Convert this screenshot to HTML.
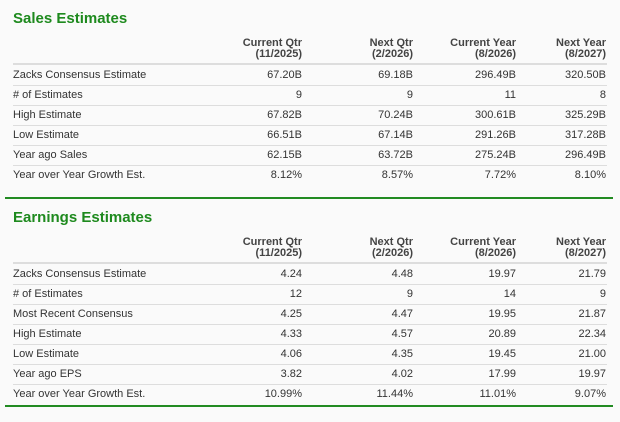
<!DOCTYPE html>
<html><head><meta charset="utf-8"><style>
body{margin:0;width:620px;height:422px;background:#fafafa;font-family:"Liberation Sans",Arial,sans-serif;position:relative;overflow:hidden;color:#333}
.t{position:absolute;left:13px;font-size:15px;font-weight:bold;color:#1e8a1e;margin:0}
.h{position:absolute;font-size:11px;font-weight:bold;color:#444;text-align:right;line-height:10.5px;width:120px}
.r{position:absolute;left:13px;width:594px;height:20px;border-bottom:1px solid #ddd;font-size:11px;line-height:20px}
.r span{position:absolute;text-align:right;width:100px}
.r .l{left:0;text-align:left;width:200px}
.hl{position:absolute;left:13px;width:594px;border-top:2px solid #ddd}
.g{position:absolute;left:5px;width:608px;border-top:2px solid #228b22}
</style></head><body>
<h2 class="t" style="top:10px">Sales Estimates</h2>
<div>
<div class="h" style="left:182px;top:38px">Current Qtr<br>(11/2025)</div>
<div class="h" style="left:293px;top:38px">Next Qtr<br>(2/2026)</div>
<div class="h" style="left:396px;top:38px">Current Year<br>(8/2026)</div>
<div class="h" style="left:486px;top:38px">Next Year<br>(8/2027)</div>
</div>
<div class="hl" style="top:63px"></div>
<div id="s"></div>
<div class="g" style="top:197px"></div>
<h2 class="t" style="top:209px">Earnings Estimates</h2>
<div>
<div class="h" style="left:182px;top:237px">Current Qtr<br>(11/2025)</div>
<div class="h" style="left:293px;top:237px">Next Qtr<br>(2/2026)</div>
<div class="h" style="left:396px;top:237px">Current Year<br>(8/2026)</div>
<div class="h" style="left:486px;top:237px">Next Year<br>(8/2027)</div>
</div>
<div class="hl" style="top:262px"></div>
<div id="e"></div>
<div class="g" style="top:405px"></div>
<script>
const salesRows=[["Zacks Consensus Estimate","67.20B","69.18B","296.49B","320.50B"],["# of Estimates","9","9","11","8"],["High Estimate","67.82B","70.24B","300.61B","325.29B"],["Low Estimate","66.51B","67.14B","291.26B","317.28B"],["Year ago Sales","62.15B","63.72B","275.24B","296.49B"],["Year over Year Growth Est.","8.12%","8.57%","7.72%","8.10%"]];
const earnRows=[["Zacks Consensus Estimate","4.24","4.48","19.97","21.79"],["# of Estimates","12","9","14","9"],["Most Recent Consensus","4.25","4.47","19.95","21.87"],["High Estimate","4.33","4.57","20.89","22.34"],["Low Estimate","4.06","4.35","19.45","21.00"],["Year ago EPS","3.82","4.02","17.99","19.97"],["Year over Year Growth Est.","10.99%","11.44%","11.01%","9.07%"]];
const rights=[289,400,503,593];
function build(id,rows,top){
 const c=document.getElementById(id);
 rows.forEach((row,i)=>{
  const d=document.createElement('div');d.className='r';d.style.top=(top+i*20)+'px';
  
  
  row.forEach((v,j)=>{const s=document.createElement('span');s.textContent=v;
   if(j==0)s.className='l';else s.style.left=(rights[j-1]-100)+'px';
   d.appendChild(s);});
  if(i==rows.length-1)d.style.borderBottom='none';
  c.appendChild(d);});
}
build('s',salesRows,65);build('e',earnRows,264);
</script>
</body></html>
